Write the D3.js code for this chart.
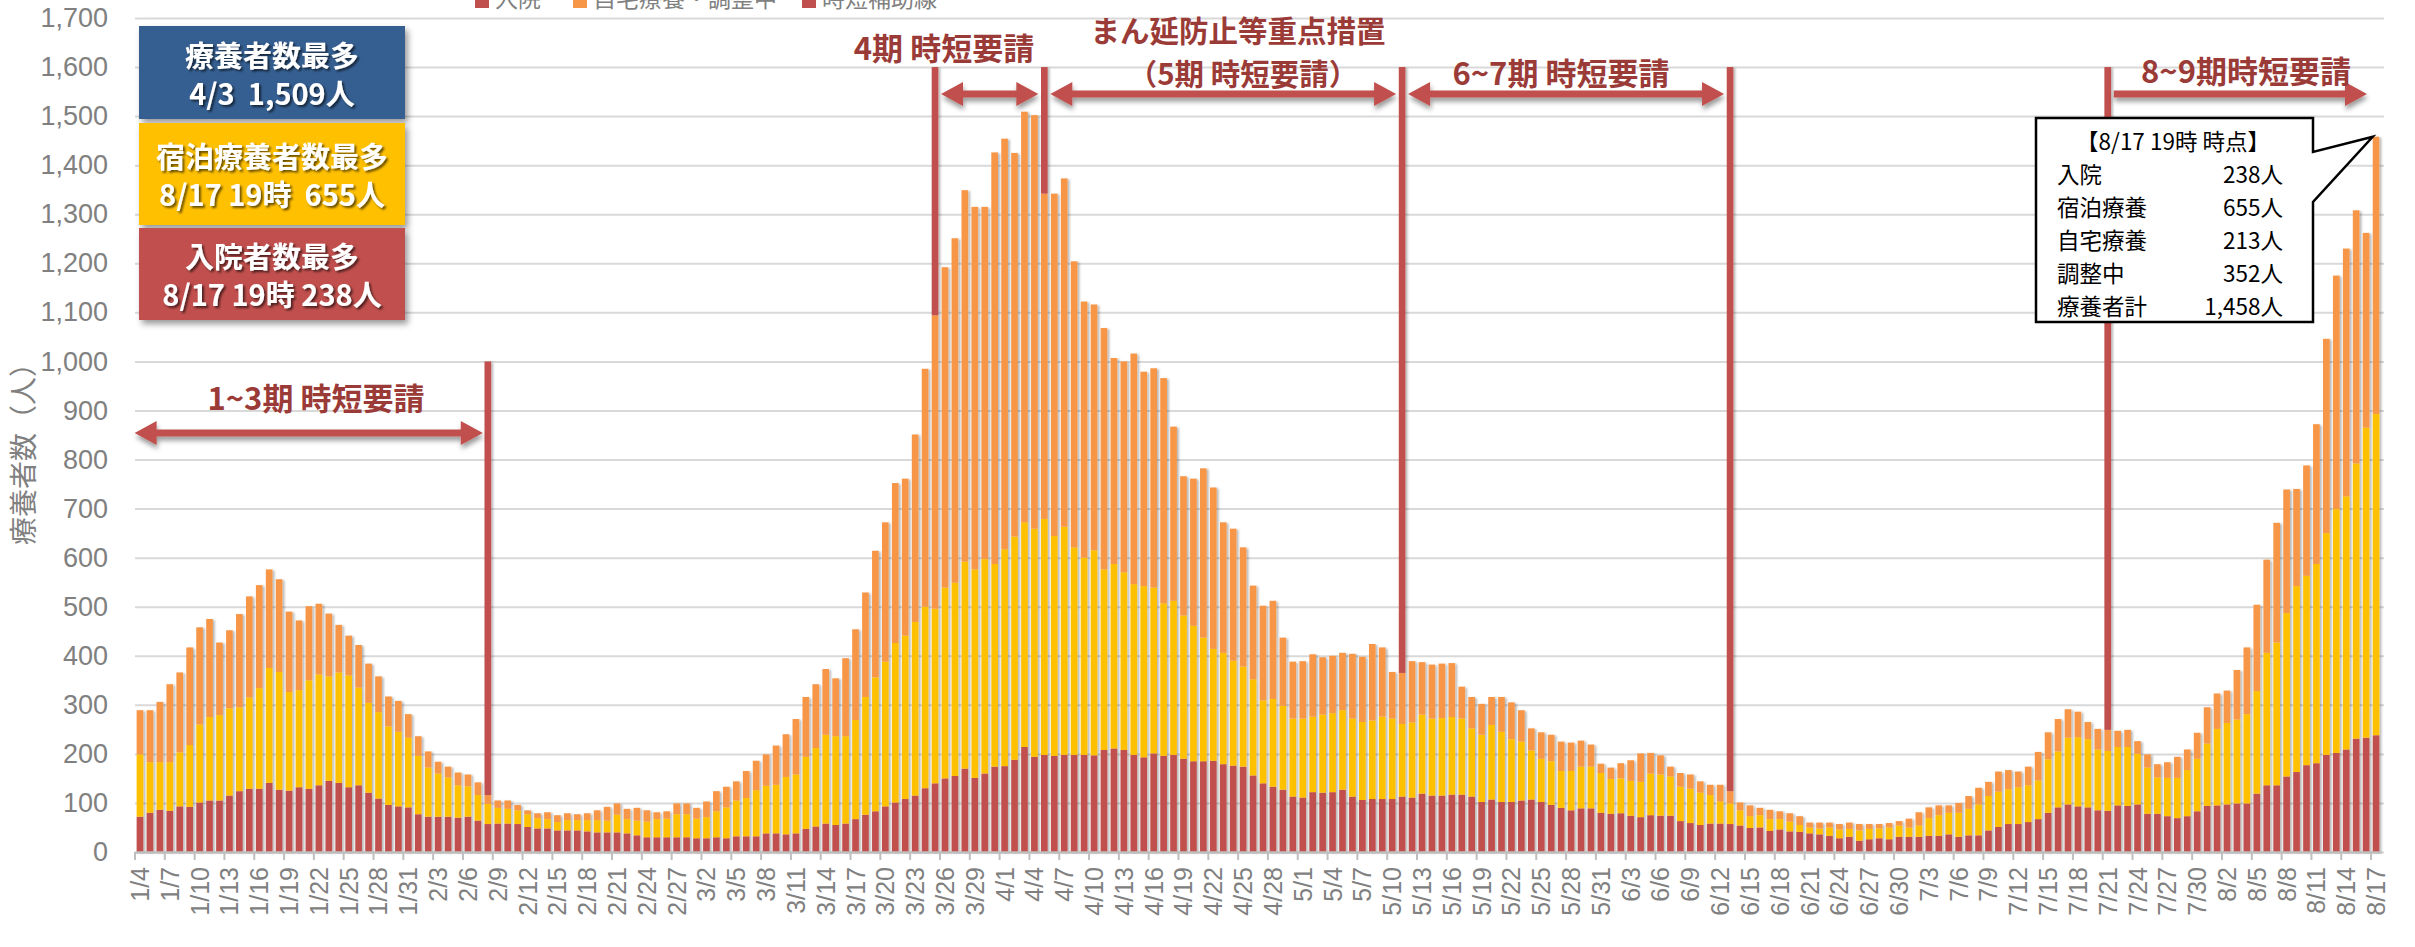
<!DOCTYPE html>
<html><head><meta charset="utf-8">
<script src="https://cdn.jsdelivr.net/npm/d3@7"></script>
<style>
html,body{margin:0;padding:0;background:#fff;overflow:hidden}
svg{display:block}
text{white-space:pre}
</style></head><body>
<svg id="chart" width="2415" height="947"></svg>
<script>
// ---------------- DATA ----------------
const firstDay = [2021, 0, 4];   // 1/4
const lastDay  = [2021, 7, 17];  // 8/17
// 入院
const hospital = [
  72,80,86,84,93,92,101,105,105,115,124,129,129,141,127,125,132,129,136,145,141,132,136,121,109,96,93,91,
  77,72,72,72,70,72,64,57,58,58,57,51,48,48,44,44,44,42,40,40,40,38,34,30,30,30,30,30,
  28,28,30,28,32,32,32,38,38,36,38,47,52,58,55,58,67,76,83,93,101,108,115,130,140,150,155,170,151,160,174,
  175,188,214,194,198,196,198,198,198,197,208,211,208,198,193,201,196,198,190,185,185,186,179,176,174,156,140,133,127,113,
  111,122,121,122,127,113,106,108,108,108,113,111,119,115,115,117,117,113,102,107,102,102,105,107,102,96,90,85,89,89,80,
  78,79,74,71,75,74,74,63,59,55,58,58,57,54,49,50,43,46,42,41,38,36,33,28,31,23,26,28,26,31,
  31,31,33,33,36,31,34,34,44,51,57,57,61,67,80,91,97,93,91,85,84,95,94,97,78,78,73,69,73,83,94,
  95,97,99,99,119,136,136,154,163,177,181,198,202,209,231,233,238
];
// 宿泊療養
const hotel = [
  127,103,97,99,110,126,159,170,174,178,171,186,205,234,240,201,198,221,226,213,225,228,199,183,176,160,152,142,
  119,100,88,80,66,62,52,41,32,30,28,26,21,19,17,21,21,23,25,24,36,29,30,32,37,38,47,47,
  40,43,53,63,73,78,94,97,99,117,120,147,160,181,181,178,202,240,273,295,325,333,354,370,356,389,394,422,425,437,413,
  442,455,458,465,481,448,465,423,402,418,368,376,362,348,349,338,311,314,292,276,252,228,227,214,204,196,169,179,171,159,
  161,154,159,161,162,159,159,160,168,164,148,153,161,157,158,158,155,139,137,152,143,128,120,100,88,89,75,80,85,85,81,
  71,71,71,72,85,84,80,70,70,66,58,45,42,31,24,25,24,21,20,14,12,12,17,18,16,21,21,20,24,23,
  19,23,36,42,44,49,54,63,70,72,71,75,75,79,109,114,136,141,139,124,122,119,120,103,94,74,78,82,94,107,127,
  156,166,171,182,209,270,291,333,379,386,406,452,497,516,561,632,655
];
// 自宅療養・調整中
const home = [
  90,106,123,159,163,199,198,200,148,159,190,206,210,201,189,164,142,151,144,128,97,81,87,80,73,61,63,48,
  40,33,24,22,26,24,26,18,15,17,11,8,10,14,14,14,12,14,20,28,23,21,26,23,14,15,22,22,
  22,32,41,42,39,55,60,64,80,87,113,122,130,134,118,159,185,213,258,284,326,320,382,485,598,653,702,757,739,718,839,
  837,782,837,843,663,698,710,583,522,501,492,420,430,470,437,447,459,355,284,300,345,329,266,269,243,191,193,200,139,116,
  117,127,117,117,117,132,133,156,141,95,104,125,107,110,111,110,65,64,63,57,71,75,64,45,54,54,60,58,53,45,19,
  23,31,42,58,42,39,20,28,29,23,21,34,25,16,22,15,19,16,17,18,10,12,10,11,13,13,10,9,9,9,
  18,27,22,20,15,20,26,34,29,41,39,32,38,58,55,66,58,52,35,42,43,33,35,26,27,27,32,43,42,53,74,
  72,66,101,136,176,190,244,252,198,225,285,396,476,505,516,397,565
];
// 時短補助線 (dates and the value its top reaches)
const auxDates = ["2/8","3/25","4/5","5/11","6/13","7/21"];
const auxTops  = [1000,1600,1600,1600,1600,1600];
const yTicks = [0,100,200,300,400,500,600,700,800,900,1000,1100,1200,1300,1400,1500,1600,1700];
const legendNames = ["入院","自宅療養・調整中","時短補助線"];
const boxLines = [["療養者数最多","4/3  1,509人"],["宿泊療養者数最多","8/17 19時  655人"],["入院者数最多","8/17 19時 238人"]];
const calloutTitle = "【8/17 19時 時点】";
const calloutRows = [["入院","238人"],["宿泊療養","655人"],["自宅療養","213人"],["調整中","352人"],["療養者計","1,458人"]];

// ---------------- SETUP ----------------
const fmt = d3.timeFormat("%-m/%-d");
const dates = d3.timeDay.range(new Date(...firstDay), d3.timeDay.offset(new Date(...lastDay), 1)).map(fmt);
const rows = dates.map((d, i) => {
  const total = hospital[i] + hotel[i] + home[i];
  const k = auxDates.indexOf(d);
  return {date: d, h: hospital[i], t: hotel[i], m: home[i], a: k >= 0 ? auxTops[k] - total : 0};
});
const colors = ["#C0504D", "#FFC000", "#F79646", "#C0504D"];
const FONT = "'Noto Sans CJK JP','Noto Sans',sans-serif";
const NUMFONT = "'Liberation Sans','Noto Sans',sans-serif";

const svg = d3.select("#chart");
const defs = svg.append("defs");
function shadow(id, dx, dy, sd, op) {
  const f = defs.append("filter").attr("id", id).attr("x", "-20%").attr("y", "-20%").attr("width", "150%").attr("height", "150%");
  f.append("feDropShadow").attr("dx", dx).attr("dy", dy).attr("stdDeviation", sd)
    .attr("flood-color", "#000").attr("flood-opacity", op);
}
shadow("barShadow", 2, 1, 1.2, 0.28);
shadow("boxShadow", 3, 4, 3, 0.4);
shadow("txtShadow", 2, 2, 1, 0.6);
shadow("arrShadow", 1, 4, 2.5, 0.4);

const plotL = 135, plotR = 2384, plotB = 852, plotT = 18;
const x = d3.scaleBand().domain(dates).range([plotL, 2381]).paddingInner(0.33).paddingOuter(0.165);
const y = d3.scaleLinear().domain([0, 1700]).range([plotB, plotT]);
const xc = d => x(d) + x.bandwidth() / 2;

// gridlines
const grid = svg.append("g").attr("transform", `translate(${plotL},0)`)
  .call(d3.axisLeft(y).tickValues(yTicks).tickSize(-(plotR - plotL)).tickFormat(""));
grid.select(".domain").remove();
grid.selectAll("line").attr("stroke", "#d9d9d9").attr("stroke-width", 2);

// y axis labels
const ya = svg.append("g").attr("transform", `translate(${plotL},0)`)
  .call(d3.axisLeft(y).tickValues(yTicks).tickSize(0).tickPadding(27).tickFormat(d3.format(",")));
ya.select(".domain").remove();
ya.selectAll("text").attr("font-family", NUMFONT).attr("font-size", 27).attr("fill", "#808080");

// y title
svg.append("text").attr("transform", "translate(22,447) rotate(-90)")
  .attr("text-anchor", "middle").attr("dominant-baseline", "central")
  .attr("font-family", FONT).attr("font-size", 28).attr("fill", "#808080").text("療養者数（人）");

// stacked bars
const stack = d3.stack().keys(["h", "t", "m", "a"]);
const layers = stack(rows);
const barG = svg.append("g").attr("filter", "url(#barShadow)");
barG.selectAll("g").data(layers).join("g").attr("fill", (d, i) => colors[i])
  .selectAll("rect").data(d => d.filter(p => p[1] > p[0])).join("rect")
  .attr("x", d => x(d.data.date)).attr("width", x.bandwidth())
  .attr("y", d => y(d[1])).attr("height", d => y(d[0]) - y(d[1]));

// x axis
const xa = svg.append("g").attr("transform", `translate(0,${plotB})`)
  .call(d3.axisBottom(x).tickValues(dates.filter((d, i) => i % 3 === 0)).tickSize(0));
xa.select(".domain").attr("stroke", "#bfbfbf").attr("stroke-width", 2.5);
xa.selectAll("text").attr("transform", "rotate(-90)").attr("text-anchor", "end")
  .attr("x", -15).attr("y", 0).attr("dy", "0.36em")
  .attr("font-family", NUMFONT).attr("font-size", 25).attr("fill", "#808080");
svg.append("g").selectAll("line").data(dates.filter((d, i) => i % 3 === 0)).join("line")
  .attr("x1", d => x(d) - x.step() * x.paddingInner() / 2).attr("x2", d => x(d) - x.step() * x.paddingInner() / 2)
  .attr("y1", plotB).attr("y2", plotB + 8).attr("stroke", "#bfbfbf").attr("stroke-width", 2);

// legend (partly above the top edge)
const lg = svg.append("g");
const legX = [475, 573, 802];
const legC = [colors[0], colors[2], colors[3]];
legendNames.forEach((n, i) => {
  lg.append("rect").attr("x", legX[i]).attr("y", -6).attr("width", 14).attr("height", 14).attr("fill", legC[i]);
  lg.append("text").attr("x", legX[i] + 20).attr("y", 7).attr("font-family", FONT).attr("font-size", 23)
    .attr("fill", "#808080").text(n);
});

// arrows
function arrowPath(x1, x2, yy, lh, rh) {
  const t = 3.5, hl = 22, hw = 12;
  const a = lh ? x1 + hl : x1, b = rh ? x2 - hl : x2;
  let p = `M${a},${yy - t} L${b},${yy - t}`;
  if (rh) p += ` L${b},${yy - hw} L${x2},${yy} L${b},${yy + hw}`;
  p += ` L${b},${yy + t} L${a},${yy + t}`;
  if (lh) p += ` L${a},${yy + hw} L${x1},${yy} L${a},${yy - hw}`;
  return p + " Z";
}
const arrG = svg.append("g").attr("fill", "#C0504D").attr("filter", "url(#arrShadow)");
const arrows = [
  [x(dates[0]) - 2, xc("2/8") - 5, 433, true, true],
  [xc("3/25") + 6, xc("4/5") - 6, 94, true, true],
  [xc("4/5") + 6, xc("5/11") - 6, 94, true, true],
  [xc("5/11") + 6, xc("6/13") - 6, 94, true, true],
  [xc("7/21") + 6, 2367, 94, false, true]
];
arrows.forEach(a => arrG.append("path").attr("d", arrowPath(...a)));

const labG = svg.append("g").attr("font-family", FONT).attr("font-weight", 700)
  .attr("fill", "#9B3B38").attr("text-anchor", "middle").attr("dominant-baseline", "central");
[["1~3期 時短要請", 316, 396, 31], ["4期 時短要請", 944, 46, 31], ["まん延防止等重点措置", 1238, 29, 29.5],
 ["（5期 時短要請）", 1243, 72, 29.5], ["6~7期 時短要請", 1561, 71, 31], ["8~9期時短要請", 2246, 69, 31]]
  .forEach(l => labG.append("text").attr("x", l[1]).attr("y", l[2]).attr("font-size", l[3]).text(l[0]));

// boxes top-left
const boxes = [["#355F91", 26, 119], ["#FFC000", 123, 225], ["#C0504D", 228, 320]];
const bG = svg.append("g");
boxes.forEach((b, i) => {
  bG.append("rect").attr("x", 139).attr("y", b[1]).attr("width", 266).attr("height", b[2] - b[1])
    .attr("fill", b[0]).attr("filter", "url(#boxShadow)");
  const cy = (b[1] + b[2]) / 2;
  boxLines[i].forEach((t, j) => {
    bG.append("text").attr("x", 272).attr("y", cy + (j === 0 ? -19 : 19))
      .attr("text-anchor", "middle").attr("dominant-baseline", "central")
      .attr("font-family", FONT).attr("font-weight", 700).attr("font-size", 29)
      .attr("fill", "#fff").attr("filter", "url(#txtShadow)").text(t);
  });
});

// callout
const last = rows[rows.length - 1];
const tipX = x(last.date), tipY = y(last.h + last.t + last.m);
const cL = 2036, cR = 2313, cT = 118, cB = 322;
svg.append("path")
  .attr("d", `M${cL},${cT} H${cR} V152 L${tipX},${tipY} L${cR},202 V${cB} H${cL} Z`)
  .attr("fill", "#fff").attr("stroke", "#000").attr("stroke-width", 2.5).attr("stroke-linejoin", "miter");
const cG = svg.append("g").attr("font-family", FONT).attr("font-size", 22.5).attr("fill", "#000")
  .attr("dominant-baseline", "central");
cG.append("text").attr("x", 2173).attr("y", 140).attr("text-anchor", "middle").text(calloutTitle);
calloutRows.forEach((r, i) => {
  const yy = 173 + i * 33;
  cG.append("text").attr("x", 2057).attr("y", yy).text(r[0]);
  cG.append("text").attr("x", 2283).attr("y", yy).attr("text-anchor", "end").text(r[1]);
});
</script>
</body></html>
